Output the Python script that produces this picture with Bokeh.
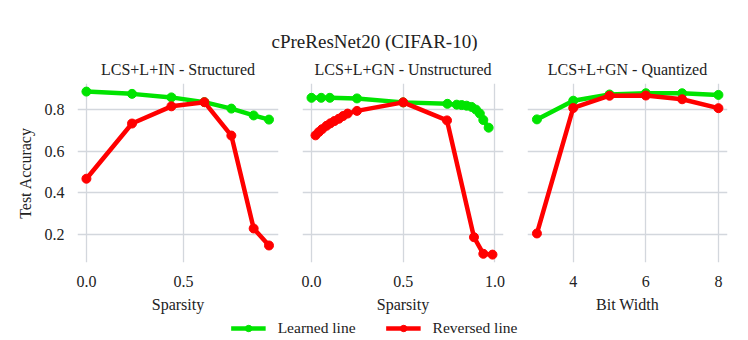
from bokeh.plotting import figure
from bokeh.layouts import column, row
from bokeh.models import FixedTicker, PrintfTickFormatter, Range1d, Legend, LegendItem
from bokeh.embed import file_html
from bokeh.resources import INLINE

# ---- data ----
struct_sparsity = [0.0, 0.235, 0.438, 0.608, 0.747, 0.862, 0.941]
struct_learned = [0.887, 0.876, 0.859, 0.836, 0.805, 0.772, 0.752]
struct_reversed = [0.467, 0.733, 0.816, 0.836, 0.675, 0.227, 0.145]

unstr_sparsity_learned = [0.0, 0.053, 0.1, 0.248, 0.5, 0.741, 0.792, 0.819, 0.846, 0.873, 0.897, 0.918, 0.937, 0.966]
unstr_learned = [0.857, 0.857, 0.857, 0.854, 0.835, 0.828, 0.824, 0.822, 0.819, 0.813, 0.800, 0.781, 0.750, 0.713]
unstr_sparsity_reversed = [0.022, 0.04, 0.058, 0.082, 0.103, 0.125, 0.149, 0.172, 0.197, 0.248, 0.5, 0.739, 0.886, 0.937, 0.987]
unstr_reversed = [0.676, 0.692, 0.706, 0.722, 0.734, 0.745, 0.756, 0.769, 0.781, 0.794, 0.835, 0.748, 0.185, 0.105, 0.101]

bit_width = [3, 4, 5, 6, 7, 8]
quant_learned = [0.753, 0.843, 0.873, 0.879, 0.879, 0.871]
quant_reversed = [0.203, 0.808, 0.867, 0.868, 0.850, 0.807]

y_ticks = [0.2, 0.4, 0.6, 0.8]
sparsity_ticks = [0.0, 0.5, 1.0]
bit_ticks = [4, 6, 8]

main_title = "cPreResNet20 (CIFAR-10)"
panel_titles = ["LCS+L+IN - Structured", "LCS+L+GN - Unstructured", "LCS+L+GN - Quantized"]
x_labels = ["Sparsity", "Sparsity", "Bit Width"]
y_label = "Test Accuracy"
series_names = ["Learned line", "Reversed line"]

GREEN = "#00e400"
RED = "#ff0000"
FONT = "Liberation Serif"
TXT = "#222222"
GRID = "#d3d7dd"
LW = 4.5
MS = 9


def style_axis(ax):
    ax.axis_line_color = None
    ax.major_tick_line_color = None
    ax.minor_tick_line_color = None
    ax.major_tick_out = 0
    ax.major_tick_in = 0
    ax.minor_tick_out = 0
    ax.minor_tick_in = 0
    ax.major_label_text_font = FONT
    ax.major_label_text_font_size = "16px"
    ax.major_label_text_color = TXT
    ax.axis_label_text_font = FONT
    ax.axis_label_text_font_size = "16px"
    ax.axis_label_text_font_style = "normal"
    ax.axis_label_text_color = TXT


def make_panel(title, xlabel, xr, xticks, xfmt, width, bl, br, show_y):
    p = figure(width=width, height=264, output_backend="svg", toolbar_location=None,
               x_range=Range1d(*xr), y_range=Range1d(0.063, 0.926),
               min_border_left=bl, min_border_right=br, min_border_top=32, min_border_bottom=49)
    p.title.text = title
    p.title.align = "center"
    p.title.text_font = FONT
    p.title.text_font_size = "16px"
    p.title.text_font_style = "normal"
    p.title.text_color = TXT
    p.title.standoff = 12
    p.outline_line_color = None
    xa = p.xaxis[0]
    ya = p.yaxis[0]
    xa.ticker = FixedTicker(ticks=xticks)
    xa.formatter = PrintfTickFormatter(format=xfmt)
    ya.ticker = FixedTicker(ticks=y_ticks)
    ya.formatter = PrintfTickFormatter(format="%.1f")
    style_axis(xa)
    style_axis(ya)
    xa.axis_label = xlabel
    xa.major_label_standoff = 13
    xa.axis_label_standoff = 6
    ya.major_label_standoff = 13
    ya.axis_label_standoff = 8
    if show_y:
        ya.axis_label = y_label
    else:
        ya.visible = False
    p.grid.grid_line_color = GRID
    p.grid.grid_line_width = 1.3
    return p


p1 = make_panel(panel_titles[0], x_labels[0], (-0.046, 0.99), sparsity_ticks, "%.1f", 290, 77, 12, True)
p1.line(struct_sparsity, struct_learned, line_color=GREEN, line_width=LW)
p1.scatter(struct_sparsity, struct_learned, color=GREEN, size=MS)
p1.line(struct_sparsity, struct_reversed, line_color=RED, line_width=LW)
p1.scatter(struct_sparsity, struct_reversed, color=RED, size=MS)

p2 = make_panel(panel_titles[1], x_labels[1], (-0.049, 1.047), sparsity_ticks, "%.1f", 225, 12, 12, False)
p2.line(unstr_sparsity_learned, unstr_learned, line_color=GREEN, line_width=LW)
p2.scatter(unstr_sparsity_learned, unstr_learned, color=GREEN, size=MS)
p2.line(unstr_sparsity_reversed, unstr_reversed, line_color=RED, line_width=LW)
p2.scatter(unstr_sparsity_reversed, unstr_reversed, color=RED, size=MS)

p3 = make_panel(panel_titles[2], x_labels[2], (2.74, 8.25), bit_ticks, "%d", 233, 12, 21, False)
p3.line(bit_width, quant_learned, line_color=GREEN, line_width=LW)
p3.scatter(bit_width, quant_learned, color=GREEN, size=MS)
p3.line(bit_width, quant_reversed, line_color=RED, line_width=LW)
p3.scatter(bit_width, quant_reversed, color=RED, size=MS)

# title figure (title sits below a tiny empty frame)
pt = figure(width=748, height=51, output_backend="svg", toolbar_location=None,
            min_border_left=0, min_border_right=0, min_border_top=0, min_border_bottom=0,
            x_axis_type=None, y_axis_type=None, title_location="below")
pt.title.text = main_title
pt.title.align = "center"
pt.title.text_font = FONT
pt.title.text_font_size = "19px"
pt.title.text_font_style = "normal"
pt.title.text_color = TXT
pt.title.standoff = 0
pt.outline_line_color = None
pt.grid.visible = False
pt.scatter(x=[], y=[])

# legend figure (hidden renderers only serve as legend swatches)
pl = figure(width=748, height=25, output_backend="svg", toolbar_location=None,
            min_border_left=0, min_border_right=0, min_border_top=0, min_border_bottom=0,
            x_axis_type=None, y_axis_type=None)
pl.outline_line_color = None
pl.grid.visible = False
lg_l = pl.line(bit_width, quant_learned, line_color=GREEN, line_width=LW, visible=False)
lg_s = pl.scatter(bit_width, quant_learned, color=GREEN, size=MS, visible=False)
lr_l = pl.line(bit_width, quant_reversed, line_color=RED, line_width=LW, visible=False)
lr_s = pl.scatter(bit_width, quant_reversed, color=RED, size=MS, visible=False)
legend = Legend(items=[LegendItem(label=series_names[0], renderers=[lg_l, lg_s]),
                       LegendItem(label=series_names[1], renderers=[lr_l, lr_s])],
                orientation="horizontal", location="center",
                glyph_width=35, glyph_height=16, label_standoff=12, spacing=30,
                padding=0, margin=0, border_line_color=None, background_fill_alpha=0,
                inactive_fill_alpha=0,
                label_text_font=FONT, label_text_font_size="15.5px", label_text_color=TXT)
pl.add_layout(legend, "center")

layout = column(pt, row(p1, p2, p3), pl)

open("out.html", "w").write(file_html(layout, INLINE))
